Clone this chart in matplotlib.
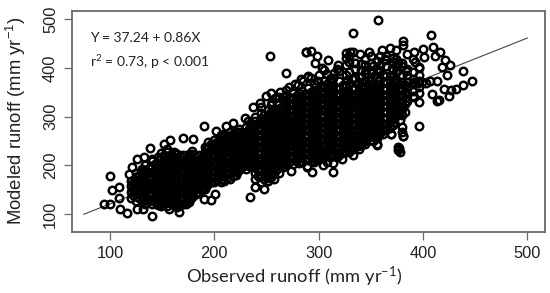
import matplotlib
matplotlib.use("Agg")
import matplotlib.pyplot as plt

plt.rcParams['mathtext.default'] = 'regular'

x_ticks = [100, 200, 300, 400, 500]
y_ticks = [100, 200, 300, 400, 500]
line_x = [75, 500]
line_y = [100, 461]

edge_x = [253,288,269,283,290,277,254,250,263,269,237,245,229,190,211,218,202,170,180,158,152,138,
          133,126,121,118,100,102,109,109,94,100,110,116,126,132,140,157,166,173,190,197,201,190,234,239,248,257,262,274,289,
          294,289,304,314,314,322,333,339,344,356,377,378,376,369,362,381,
          357,333,408,381,381,410,288,293,298,309,297,303,319,315,308,290,326,330,333,348,361,368,374,391,400,401,416,412,421,426,418,438,423,396,375,
          447,438,432,427,420,425,415,413,409,396,391,413,396,378,376,380,378,380,380,381,367,368,369,356,376,
          391,395,399,403,407]
edge_y = [424,433,389,377,382,367,349,343,351,355,320,320,297,281,281,286,271,257,255,252,244,236,
          217,213,196,183,179,150,155,133,121,121,110,102,110,110,96,110,105,120,131,129,142,152,135,155,152,172,184,189,198,
          187,197,200,186,204,213,221,233,244,243,235,228,232,264,264,260,
          498,472,467,454,447,443,433,435,424,416,409,400,406,389,387,383,430,433,433,433,437,440,437,433,438,423,433,424,415,406,402,394,386,402,393,
          373,364,356,355,356,342,334,331,346,329,341,372,281,314,320,316,293,279,269,260,287,276,264,242,238,
          370,368,371,369,372]

loose_x = [295,300,308,312,318,325,331,338,345,352,300,310,322,335,348,
           255,262,272,280,285,293,300,305,312,318,258,275,244,232,
           340,352,364,376,385,392,345,358,370,384]
loose_y = [210,215,208,222,218,228,232,240,250,250,228,235,240,252,262,
           330,340,360,365,372,380,385,395,380,398,338,352,327,292,
           428,404,418,410,428,412,396,392,400,394]

col_x = [120,125,131,134,140,146,149,155,161,164,170,176,179,185,191,194,200,206,209,215,221,224,230,236,
         239,245,251,254,260,266,269,275,281,284,290,296,299,305,311,314,320,326,329,335,341,344,350,356,
         359,365,371,374,380,385,390,396]
col_y = [
 [133,145,158,168],
 [128,141,152,163,176,184],
 [127,139,149,161,173,183,193],
 [122,134,146,156,167,179,189,201],
 [120,131,143,153,164,176,186,197,209,214],
 [119,130,140,152,163,173,184,196,206,218],
 [116,127,139,151,160,171,183,193,204,216,226],
 [117,129,138,149,161,172,184,194,205,216,227,233],
 [118,129,141,153,163,174,185,197,207,218,228],
 [114,126,137,149,159,170,182,192,203,214,224],
 [122,134,144,155,167,177,188,199,211,222],
 [126,137,149,159,170,182,192,203,215,224],
 [136,147,158,170,180,191,203,213,224,229],
 [146,157,169,179,190,202,212,222],
 [152,164,174,185,197,207,218,228,238],
 [161,172,184,194,205,217,227,238,248],
 [166,177,188,200,210,221,233,243,253],
 [167,179,189,200,212,222,233,245,255,263],
 [168,179,191,201,212,224,234,245,257,264],
 [172,184,194,205,217,227,238,250,260,269],
 [181,192,204,214,225,237,247,258,268],
 [191,203,213,224,236,246,257,269,274],
 [192,203,215,225,236,248,258,269,279],
 [196,208,218,229,241,251,262,274,284],
 [172,184,197,208,220,233,244,256,269,280,292,299],
 [167,178,191,202,214,227,238,250,263,274,286,298,308],
 [168,180,193,204,216,229,240,252,265,276,288,301,313],
 [177,189,202,213,225,238,249,261,274,285,297,310,323],
 [192,203,216,227,239,252,263,275,288,299,311,328],
 [197,208,221,232,244,257,268,280,293,304,316,334],
 [202,214,227,238,250,263,274,286,299,310,322,335,344],
 [203,215,228,239,251,264,275,287,300,311,323,336,348],
 [204,216,229,240,252,265,276,288,301,312,324,337,349],
 [207,219,232,243,255,268,279,291,304,315,327,340,353],
 [212,224,237,248,260,273,284,296,309,320,332,345,358],
 [208,220,233,244,256,269,280,292,305,316,328,341,352,368],
 [212,224,237,248,260,273,284,296,309,320,332,345,356,373],
 [217,229,242,253,265,278,289,301,314,325,337,350,361,374],
 [218,230,243,254,266,279,290,302,315,326,338,351,362,378],
 [219,232,246,257,269,282,293,305,318,329,341,354,365,379],
 [222,235,248,259,271,284,295,307,320,331,343,358,372,394],
 [227,240,253,264,276,289,300,312,325,336,348,363,385,405,420],
 [228,241,254,265,277,290,301,313,326,337,349,367,392,411,424],
 [237,249,262,273,285,298,309,321,334,345,358,379,398,409],
 [242,254,267,278,290,303,314,326,339,350,362,382,396,408],
 [252,264,277,288,300,313,324,336,349,360,374,389,405,419],
 [252,265,278,289,301,314,325,337,350,361,375,394,410,424],
 [257,269,282,293,305,318,329,341,354,365,380,398,414],
 [267,279,292,303,315,328,339,351,364,378,393,406,424],
 [272,285,298,309,321,334,345,357,370,384,404,416,425],
 [282,295,308,319,331,344,355,367,383,396,411,421],
 [301,313,326,337,349,362,374,391,404,418],
 [303,318,333,345,357,371,386,403,410],
 [333,347,359,371,385,398],
 [342,353,367,378,392,418],
 [348,360,374,386,399],
]

fill_x = [122,128,132,137,143,147,152,158,162,167,173,177,182,188,192,197,203,207,212,218,222,227,233,237,
          242,248,252,257,263,267,272,278,282,287,293,297,302,308,312,317,323,327,332,338,342,347,353,357,
          362,368,372,377,383]
fill_y = [
 [139,152,163],
 [134,146,158,170,180],
 [132,144,156,167,178,189],
 [128,140,151,162,173,184,195],
 [125,136,147,159,170,181,191,203],
 [124,135,146,157,168,179,190,201,212],
 [122,133,144,155,166,177,189,199,210,221],
 [123,134,144,156,167,178,188,200,211,222],
 [121,132,146,158,169,179,191,202,213,223],
 [120,132,143,154,165,176,187,198,209,219],
 [128,139,150,161,172,183,194,205,216],
 [131,143,154,165,175,186,198,209,219],
 [141,152,164,175,185,197,208,218],
 [152,163,174,184,196,207,217],
 [158,169,180,191,202,213,223,233],
 [166,178,189,199,211,222,232,243],
 [171,183,194,205,216,227,238,248],
 [173,184,195,206,217,228,239,250,259],
 [174,185,196,206,218,229,240,251,261],
 [178,189,200,211,222,232,244,254,265],
 [186,198,209,219,231,241,252,263],
 [197,208,219,230,241,252,263],
 [198,209,220,231,242,253,264,274],
 [202,213,224,235,246,257,268,279],
 [178,190,203,214,226,238,250,262,275,286],
 [173,185,197,208,220,232,244,257,268,280,292,303],
 [174,186,198,210,222,234,246,258,270,282,294,306],
 [183,195,207,219,231,243,255,267,279,291,303,316],
 [198,209,221,233,245,257,269,281,293,305,318],
 [203,214,226,238,250,262,274,286,298,310,325],
 [208,220,232,244,256,268,280,292,304,316,328,339],
 [209,221,233,245,257,269,281,293,305,317,329,342],
 [210,222,234,246,258,270,282,294,306,318,330,343],
 [213,225,237,249,261,273,285,297,309,321,333,347],
 [218,230,242,254,266,278,290,302,314,326,338,350],
 [214,226,238,250,262,274,286,298,310,322,334,346,360],
 [218,230,242,254,266,278,290,302,314,326,338,350,363],
 [223,235,247,259,271,283,295,307,319,331,343,355,367],
 [224,236,248,260,272,284,296,308,320,332,344,356,370],
 [226,238,251,263,275,287,299,311,323,335,347,359],
 [228,241,253,265,277,289,301,313,325,337,349,364],
 [233,246,258,270,282,294,306,318,330,342,354,376],
 [234,247,259,271,283,295,307,319,331,343,356,378],
 [243,255,267,279,291,303,315,327,339,351,368],
 [248,260,272,284,296,308,320,332,344,356,371],
 [258,270,282,294,306,318,330,342,354,366],
 [258,271,283,295,307,319,331,343,355,368,384],
 [263,275,287,299,311,323,335,347,359,372],
 [273,285,297,309,321,333,345,357,371,386],
 [278,291,303,315,327,339,351,363,376],
 [288,301,313,325,337,349,361,375],
 [307,319,331,343,355,367],
 [310,325,339,351,364],
]

fig = plt.figure(figsize=(5.5, 2.93), dpi=100)
W, H = 550.0, 293.0
ax = fig.add_axes([72/W, 1-232.3/H, (545-72)/W, (232.3-11)/H])
ax.set_xlim(63.6, 517)
ax.set_ylim(63, 516.4)

ax.plot(line_x, line_y, color='#444444', lw=0.8, zorder=1)
style = dict(ls='none', marker='o', ms=5.4, mfc='none', mec='black', mew=1.75, zorder=2)
ax.plot(edge_x, edge_y, **style)
ax.plot(loose_x, loose_y, **style)
for cx, ys in zip(col_x, col_y):
    ax.plot([cx]*len(ys), ys, **style)
for cx, ys in zip(fill_x, fill_y):
    ax.plot([cx]*len(ys), ys, **style)

for s in ax.spines.values():
    s.set_color('#6a6a6a')
    s.set_linewidth(1.3)
ax.set_xticks(x_ticks)
ax.set_yticks(y_ticks)
ax.tick_params(axis='both', length=5.5, width=0.9, color='#6a6a6a', pad=4.5)
for t in ax.get_xticklabels():
    t.set_fontfamily('Liberation Sans'); t.set_fontsize(11.8); t.set_color('#222222')
for t in ax.get_yticklabels():
    t.set_fontfamily('Liberation Sans'); t.set_fontsize(11.8); t.set_color('#222222')
    t.set_rotation(90); t.set_va('center')

fig.text(294/W, 1-277/H, 'Observed runoff (mm yr$^{-1}$)', family='Lato', fontsize=13.2,
         ha='center', va='center', color='#222222')
fig.text(16/W, 1-120.5/H, 'Modeled runoff (mm yr$^{-1}$)', family='Liberation Sans', fontsize=13.3,
         rotation=90, ha='center', va='center', color='#222222')
fig.text(90/W, 1-38/H, 'Y = 37.24 + 0.86X', family='Lato', fontsize=10,
         ha='left', va='center', color='#222222')
fig.text(90/W, 1-62/H, 'r$^{2}$ = 0.73, p < 0.001', family='Lato', fontsize=10,
         ha='left', va='center', color='#222222')

fig.savefig('out.png', dpi=100)
